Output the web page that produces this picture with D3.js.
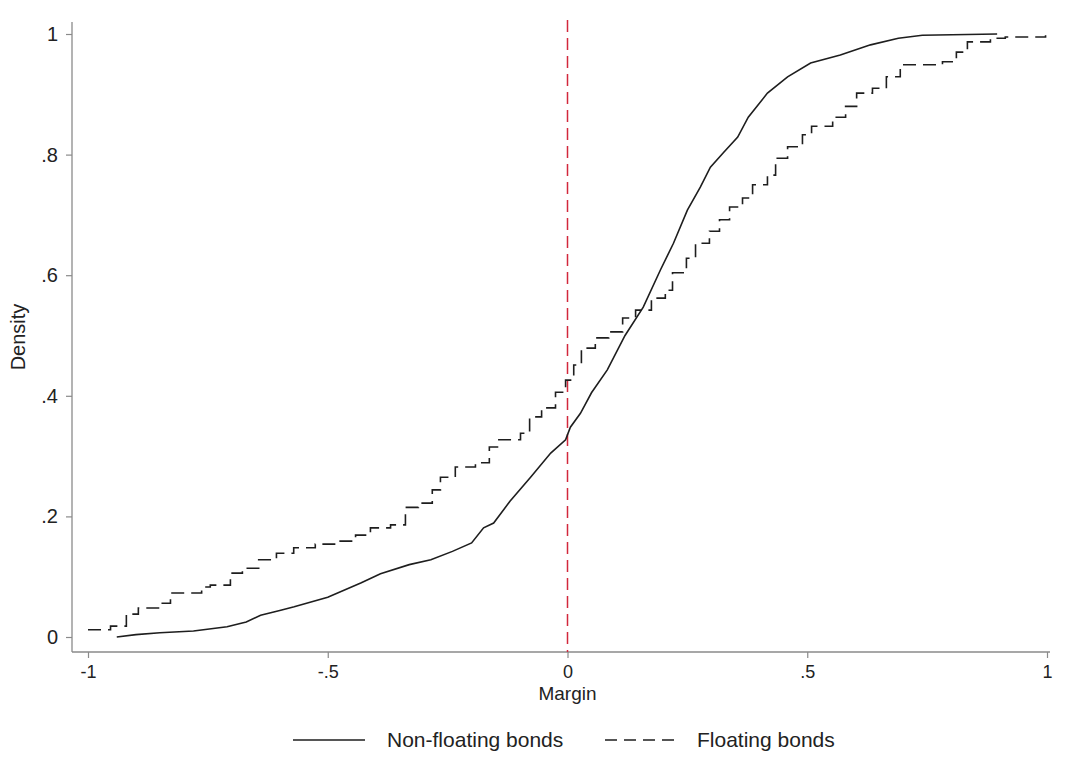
<!DOCTYPE html>
<html><head><meta charset="utf-8">
<script src="https://cdn.jsdelivr.net/npm/d3@7"></script>
<style>body{margin:0;background:#fff}svg{display:block}text{font-family:"Liberation Sans",Arial,sans-serif;fill:#222}</style>
</head><body><div id="chart"></div>
<script>
const xTicks = [-1, -0.5, 0, 0.5, 1];
const xTickLabels = ["-1", "-.5", "0", ".5", "1"];
const yTicks = [0, 0.2, 0.4, 0.6, 0.8, 1];
const yTickLabels = ["0", ".2", ".4", ".6", ".8", "1"];
const seriesNames = ["Non-floating bonds", "Floating bonds"];

// Non-floating bonds (smooth CDF)
const nonFloatX = [-0.94,-0.90,-0.85,-0.78,-0.71,-0.67,-0.64,-0.60,-0.57,-0.50,-0.43,-0.39,-0.33,-0.285,-0.24,-0.20,-0.175,-0.154,-0.12,-0.077,-0.035,-0.004,0.006,0.027,0.05,0.083,0.12,0.158,0.194,0.221,0.25,0.277,0.298,0.325,0.355,0.377,0.417,0.459,0.507,0.569,0.632,0.69,0.74,0.896];
const nonFloatY = [0,0.004,0.007,0.010,0.017,0.025,0.036,0.044,0.050,0.066,0.090,0.105,0.120,0.128,0.142,0.156,0.181,0.189,0.225,0.265,0.305,0.327,0.348,0.371,0.405,0.443,0.500,0.547,0.609,0.653,0.708,0.746,0.779,0.803,0.829,0.862,0.902,0.929,0.952,0.965,0.982,0.993,0.998,1.0];

// Floating bonds (step CDF): x where each step starts, level after step
const floatX = [-1.0,-0.953,-0.920,-0.895,-0.853,-0.828,-0.763,-0.745,-0.703,-0.678,-0.644,-0.607,-0.571,-0.526,-0.484,-0.442,-0.411,-0.369,-0.338,-0.311,-0.282,-0.265,-0.234,-0.192,-0.163,-0.146,-0.098,-0.079,-0.054,-0.025,-0.004,0.013,0.029,0.058,0.086,0.115,0.142,0.175,0.204,0.219,0.248,0.267,0.296,0.317,0.338,0.365,0.386,0.417,0.434,0.459,0.490,0.509,0.553,0.580,0.603,0.636,0.665,0.694,0.782,0.811,0.834,0.882,0.913,0.997];
const floatY = [0.012,0.018,0.038,0.048,0.056,0.073,0.083,0.086,0.106,0.114,0.128,0.139,0.148,0.154,0.159,0.169,0.181,0.186,0.215,0.222,0.244,0.265,0.282,0.289,0.315,0.327,0.338,0.365,0.380,0.406,0.426,0.451,0.479,0.496,0.506,0.529,0.542,0.562,0.575,0.604,0.628,0.653,0.673,0.692,0.713,0.728,0.750,0.766,0.794,0.813,0.833,0.847,0.862,0.880,0.902,0.910,0.929,0.949,0.954,0.970,0.987,0.993,0.995,0.998];

(function () {
const W = 1084, H = 761;
const TS = 18, FS = 19, LS = 21;
const svg = d3.select("#chart").append("svg").attr("width", W).attr("height", H);

const x = d3.scaleLinear().domain([-1, 1]).range([88, 1047]);
const y = d3.scaleLinear().domain([0, 1]).range([637, 34]);
const axisColor = "#8a8a8a";
const axLeft = 72, axBottom = 652, axTop = 22, axRight = 1050;

svg.append("line").attr("x1", axLeft).attr("x2", axLeft).attr("y1", axTop).attr("y2", axBottom).attr("stroke", axisColor).attr("stroke-width", 1.3);
svg.append("line").attr("x1", axLeft).attr("x2", axRight).attr("y1", axBottom).attr("y2", axBottom).attr("stroke", axisColor).attr("stroke-width", 1.3);

const yg = svg.append("g").attr("transform", `translate(${axLeft},0)`)
  .call(d3.axisLeft(y).tickValues(yTicks).tickSize(6).tickPadding(8).tickFormat((d, i) => yTickLabels[i]));
yg.select(".domain").remove();
yg.selectAll("line").attr("stroke", axisColor).attr("stroke-width", 1.2);
yg.selectAll("text").attr("font-size", LS - 1).attr("font-family", "Liberation Sans, Arial, sans-serif").attr("fill", "#222");

const xg = svg.append("g").attr("transform", `translate(0,${axBottom})`)
  .call(d3.axisBottom(x).tickValues(xTicks).tickSize(6).tickPadding(7).tickFormat((d, i) => xTickLabels[i]));
xg.select(".domain").remove();
xg.selectAll("line").attr("stroke", axisColor).attr("stroke-width", 1.2);
xg.selectAll("text").attr("font-size", TS).attr("font-family", "Liberation Sans, Arial, sans-serif").attr("fill", "#222");

svg.append("text").attr("x", x(0)).attr("y", 700).attr("text-anchor", "middle").attr("font-size", FS).text("Margin");
svg.append("text").attr("transform", `translate(25,${(axTop + axBottom) / 2}) rotate(-90)`).attr("text-anchor", "middle").attr("font-size", LS - 1).text("Density");

svg.append("line").attr("x1", x(0)).attr("x2", x(0)).attr("y1", 20).attr("y2", axBottom)
  .attr("stroke", "#d2283c").attr("stroke-width", 1.5).attr("stroke-dasharray", "12,6");

const nonFloat = nonFloatX.map((v, i) => [v, nonFloatY[i]]);
const floating = floatX.map((v, i) => [v, floatY[i]]);

svg.append("path").datum(nonFloat)
  .attr("d", d3.line().x(d => x(d[0])).y(d => y(d[1])))
  .attr("fill", "none").attr("stroke", "#1e1e1e").attr("stroke-width", 1.6);

svg.append("path").datum(floating)
  .attr("d", d3.line().x(d => x(d[0])).y(d => y(d[1])).curve(d3.curveStepAfter))
  .attr("fill", "none").attr("stroke", "#1e1e1e").attr("stroke-width", 1.6).attr("stroke-dasharray", "13,7");

const ly = 740;
svg.append("line").attr("x1", 293).attr("x2", 365).attr("y1", ly).attr("y2", ly).attr("stroke", "#1e1e1e").attr("stroke-width", 1.6);
svg.append("text").attr("x", 387).attr("y", ly + 7).attr("font-size", LS).text(seriesNames[0]);
svg.append("line").attr("x1", 605).attr("x2", 680).attr("y1", ly).attr("y2", ly).attr("stroke", "#1e1e1e").attr("stroke-width", 1.6).attr("stroke-dasharray", "12,7");
svg.append("text").attr("x", 697).attr("y", ly + 7).attr("font-size", LS).text(seriesNames[1]);
})();
</script></body></html>
